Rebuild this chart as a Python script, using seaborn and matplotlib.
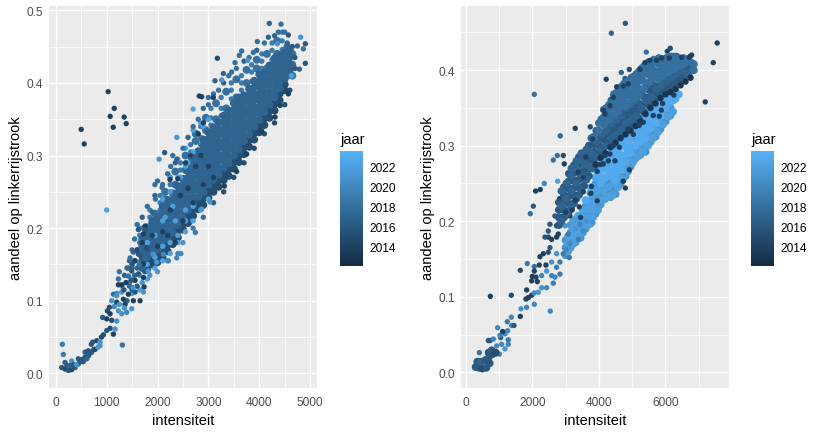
import matplotlib
matplotlib.use("Agg")
import matplotlib.pyplot as plt
import pandas as pd
import seaborn as sns
from matplotlib.cm import ScalarMappable
from matplotlib.colors import LinearSegmentedColormap, Normalize
from matplotlib.ticker import MultipleLocator

WIDTH, HEIGHT = 823, 435
JAAR_MIN, JAAR_MAX = 2012.1, 2023.6
JAAR_TICKS = [2014, 2016, 2018, 2020, 2022]
CMAP = LinearSegmentedColormap.from_list("jaar", ["#132B43", "#56B1F7"])
POINT = 15
DENSE = 32

# left panel, scattered points: (intensiteit, aandeel, jaar)
LEFT_SINGLES = [
    (131, .040, 2019), (150, .026, 2019), (1310, .039, 2018), (1000, .225, 2022), (2033, .295, 2021),
    (2380, .325, 2021), (2700, .364, 2022), (4813, .463, 2021), (4636, .41, 2022), (3032, .236, 2021),
    (2868, .226, 2021), (3772, .431, 2021), (4355, .454, 2021), (3261, .404, 2021),
    (4197, .482, 2017), (4427, .481, 2018), (4374, .47, 2018), (4178, .463, 2017), (4571, .466, 2016),
    (3962, .457, 2018), (3654, .444, 2018), (3608, .438, 2018), (3523, .428, 2018), (3883, .442, 2018),
    (3176, .434, 2015), (3294, .413, 2017), (3457, .415, 2018), (3130, .403, 2017), (2999, .38, 2018),
    (4905, .454, 2016), (4865, .447, 2018), (4905, .427, 2016), (4787, .419, 2017), (4748, .451, 2017),
    (2140, .304, 2016), (2300, .300, 2018), (2260, .285, 2018), (2380, .295, 2017), (1960, .24, 2018),
    (1950, .26, 2018), (2090, .256, 2018), (1900, .222, 2017), (2000, .265, 2018),
]
LEFT_FRINGE = [
    (2500, .31, 2018), (2600, .325, 2017), (2700, .34, 2018), (2800, .35, 2018), (2900, .365, 2017),
    (3000, .37, 2018), (3100, .385, 2018), (3200, .39, 2018), (3300, .4, 2017), (3400, .41, 2018),
    (3550, .42, 2018), (3700, .43, 2017), (3800, .435, 2018), (3950, .445, 2017), (4100, .455, 2018),
    (4300, .465, 2017), (4500, .47, 2018), (4550, .455, 2017), (4650, .45, 2016), (4700, .435, 2016),
    (4700, .42, 2016), (2200, .275, 2018), (2350, .29, 2017), (2100, .26, 2018), (1950, .245, 2017),
    (1800, .23, 2018), (1700, .215, 2017), (1600, .205, 2018), (1550, .185, 2018), (1500, .17, 2018),
    (1450, .155, 2017), (1400, .145, 2018), (1350, .135, 2017), (1250, .14, 2018), (1300, .12, 2021),
    (1200, .11, 2020), (1100, .10, 2021),
    (1700, .125, 2021), (1850, .135, 2021), (2000, .14, 2021), (2200, .155, 2020), (2400, .165, 2020),
    (2500, .18, 2021), (2700, .2, 2019), (2900, .215, 2018), (3100, .235, 2016), (3300, .25, 2015),
    (3500, .27, 2015), (3700, .29, 2015), (3900, .31, 2015), (4100, .33, 2015), (4300, .345, 2015),
    (4500, .37, 2015), (4600, .39, 2015),
    (1400, .10, 2017), (1500, .115, 2016), (1550, .135, 2017), (1600, .12, 2016), (1650, .15, 2016),
    (1700, .16, 2018), (1600, .17, 2017), (1650, .18, 2018), (1500, .145, 2017), (1750, .14, 2016),
    (1800, .17, 2016), (1550, .155, 2016), (1450, .125, 2020),
]
LEFT_DARK = [
    (500, .336), (560, .316), (1030, .388), (1070, .354), (1150, .365), (1130, .339), (1345, .353),
    (1385, .344), (2820, .382), (3097, .38), (2868, .381), (2245, .267), (4309, .353), (3555, .278),
    (3313, .258), (4571, .385), (4407, .369), (4047, .334), (3752, .302),
    (2100, .195), (2250, .225), (2350, .18), (2500, .21), (2450, .245), (2600, .255), (2700, .235),
    (2750, .285), (2900, .26), (2850, .3), (3000, .285), (3100, .27), (1900, .19), (2000, .175),
    (2200, .19), (2650, .3), (2800, .33), (2900, .345), (2400, .268), (2550, .29),
]
LEFT_LOW_X = [118, 183, 249, 314, 380, 445, 511, 576, 642, 707, 183, 314, 445, 576, 642, 727, 806, 871, 773, 871,
              937, 1002, 1068, 1166, 1133, 1002, 1100, 1015, 1068, 1199, 923, 1055, 1199, 1133, 1232, 1297, 1395,
              1493, 1362, 1232, 1232, 1297, 1199, 1297, 1330, 1428, 1526, 1428, 1493, 1559, 1624, 1657, 1723,
              1560, 1461, 1526, 1624, 1723, 1821, 1723, 1736, 1624, 1762, 1762, 1723, 1788, 1919, 1985, 2116,
              2214, 2378, 2460, 2744, 1640, 1700, 1600,
              220, 280, 350, 410, 480, 540, 610, 680, 750, 830, 900, 700, 620, 1150, 1250, 1340, 1450, 1380, 1520,
              1420, 1500, 1600, 1560, 1680, 1480, 1350]
LEFT_LOW_Y = [.008, .006, .004, .005, .008, .013, .019, .022, .024, .029, .015, .017, .02, .029, .031, .043, .045,
              .043, .033, .038, .053, .059, .062, .061, .054, .075, .073, .086, .082, .072, .077, .091, .098, .109,
              .086, .082, .084, .089, .095, .13, .122, .122, .107, .112, .102, .109, .1, .134, .141, .128, .137,
              .1, .112, .112, .159, .167, .164, .151, .141, .132, .119, .198, .203, .197, .192, .173, .164, .153,
              .164, .155, .159, .165, .194, .150, .180, .170,
              .011, .011, .012, .012, .016, .016, .02, .028, .033, .036, .05, .04, .03, .092, .095, .115, .12, .125,
              .118, .145, .15, .145, .155, .16, .128, .09]
LEFT_LOW_JAAR = [2016, 2015, 2016, 2015, 2016, 2016, 2016, 2015, 2016, 2017, 2017, 2021, 2016, 2017, 2016, 2016,
                 2015, 2021, 2014, 2021, 2015, 2016, 2015, 2021, 2014, 2014, 2015, 2015, 2014, 2021, 2016, 2015,
                 2014, 2018, 2021, 2021, 2020, 2021, 2014, 2018, 2014, 2014, 2021, 2021, 2014, 2014, 2014, 2018,
                 2016, 2014, 2016, 2014, 2021, 2016, 2018, 2017, 2016, 2014, 2021, 2014, 2014, 2016, 2014, 2016,
                 2014, 2015, 2021, 2021, 2020, 2020, 2020, 2020, 2019, 2018, 2014, 2015,
                 2016, 2017, 2016, 2021, 2016, 2016, 2017, 2016, 2015, 2021, 2015, 2016, 2016, 2020, 2021, 2016,
                 2017, 2014, 2021, 2017, 2016, 2017, 2014, 2016, 2016, 2021]

# left panel, dense cloud per layer: intensiteit -> aandeel values
LEFT_2022 = {1500: [.11, .13, .15], 1650: [.115, .135], 1800: [.13, .15, .18], 1950: [.145, .16, .19],
             2100: [.155, .175, .21, .24], 2250: [.165, .18, .25, .27], 2400: [.18, .19, .27, .295],
             2550: [.195, .21, .285, .31], 2700: [.21, .23, .305, .335], 2850: [.225, .345], 3000: [.24, .35]}
LEFT_2015 = {1800: [.143, .152], 1900: [.150, .158], 2000: [.153, .162], 2100: [.160, .168], 2200: [.168, .177],
             2300: [.178, .186], 2400: [.187, .196], 2500: [.198, .206], 2600: [.207, .216], 2700: [.217, .226],
             2800: [.226, .235], 2900: [.232, .241], 3000: [.242, .251], 3100: [.250, .259], 3200: [.257, .266],
             3300: [.266, .275], 3400: [.272, .281], 3500: [.282, .291], 3600: [.291, .3], 3700: [.302, .311],
             3800: [.312, .321], 3900: [.322, .331], 4000: [.332, .341], 4100: [.342, .351], 4200: [.352, .361],
             4300: [.362, .371], 4400: [.376, .385], 4500: [.39, .398]}
LEFT_2019 = {1650: [.19, .2], 1850: [.205, .215, .225], 2050: [.225, .235, .245], 2250: [.25, .26, .27],
             2450: [.27, .28, .29], 2650: [.295, .305, .315], 2850: [.315, .325, .34], 3050: [.342, .352, .365],
             3250: [.355, .365, .38], 3450: [.378, .39, .4], 3650: [.39, .4, .41], 3850: [.402, .415, .425],
             4050: [.42, .43, .44], 4250: [.432, .445, .455], 4450: [.446, .458, .47]}
LEFT_2018 = {1750: [.15, .17, .19, .2], 1950: [.16, .18, .2, .22], 2150: [.18, .2, .22, .24, .25],
             2350: [.2, .22, .24, .26, .278], 2550: [.22, .24, .26, .28, .3], 2750: [.24, .26, .28, .3, .32, .33],
             2950: [.255, .275, .295, .315, .335, .352], 3150: [.27, .29, .31, .33, .35, .372],
             3350: [.285, .305, .325, .345, .365, .388], 3550: [.3, .32, .34, .36, .38, .405],
             3750: [.32, .34, .36, .38, .4, .418], 3950: [.34, .36, .38, .4, .42, .432],
             4150: [.36, .38, .4, .42, .44], 4350: [.38, .4, .42, .44, .458], 4550: [.41, .43, .45],
             4650: [.41, .425, .44]}
LEFT_2017 = {1700: [.145, .155, .165, .175, .185], 1800: [.16, .169, .178, .187, .196],
             1900: [.165, .174, .183, .192, .201, .21], 2000: [.17, .179, .188, .197, .206, .215],
             2100: [.176, .185, .194, .203, .212, .221, .23], 2200: [.185, .194, .203, .212, .221, .23, .239],
             2300: [.194, .203, .212, .221, .23, .239, .248], 2400: [.204, .213, .222, .231, .24, .249, .258],
             2500: [.214, .223, .232, .241, .25, .259, .268], 2600: [.224, .233, .242, .251, .26, .269, .278, .287],
             2700: [.234, .243, .252, .261, .27, .279, .288, .297], 2800: [.243, .252, .261, .27, .279, .288, .297, .306],
             2900: [.25, .259, .268, .277, .286, .295, .304, .313, .322],
             3000: [.26, .269, .278, .287, .296, .305, .314, .323, .332],
             3100: [.267, .276, .285, .294, .303, .312, .321, .33, .339],
             3200: [.274, .283, .292, .301, .31, .319, .328, .337, .346],
             3300: [.283, .292, .301, .31, .319, .328, .337, .346, .355],
             3400: [.29, .299, .308, .317, .326, .335, .344, .353, .362],
             3500: [.3, .309, .318, .327, .336, .345, .354, .363, .372],
             3600: [.308, .317, .326, .335, .344, .353, .362, .371, .38],
             3700: [.32, .329, .338, .347, .356, .365, .374, .383], 3800: [.329, .338, .347, .356, .365, .374, .383, .392],
             3900: [.34, .349, .358, .367, .376, .385, .394, .403], 4000: [.349, .358, .367, .376, .385, .394, .403, .412],
             4100: [.36, .369, .378, .387, .396, .405, .414], 4200: [.37, .379, .388, .397, .406, .415, .424],
             4300: [.38, .389, .398, .407, .416, .425, .434], 4400: [.393, .402, .411, .42, .429, .438],
             4500: [.406, .415, .424, .433, .442], 4600: [.418, .427, .436, .445]}
LEFT_BRIGHT_SPECKS = [(2300, .23), (2450, .27), (2350, .21), (2550, .225), (2150, .215), (2600, .29), (2900, .34)]

# right panel, scattered points
RIGHT_SINGLES = [
    (2060, .368, 2018), (4220, .388, 2014), (4140, .347, 2014), (3290, .323, 2014), (3740, .325, 2015),
    (2840, .313, 2017), (2930, .287, 2015), (2750, .287, 2018), (2630, .281, 2018), (2960, .276, 2014),
    (2360, .25, 2020), (2760, .253, 2022), (3080, .246, 2017), (3200, .257, 2017), (2100, .24, 2014),
    (2240, .242, 2014), (2820, .23, 2014), (2030, .22, 2016), (1940, .21, 2018),
    (4793, .462, 2016), (4373, .449, 2017), (7553, .436, 2014), (7433, .41, 2014), (7193, .358, 2014),
    (5423, .424, 2018), (6053, .425, 2014), (6143, .429, 2015), (6293, .419, 2016), (6733, .418, 2014),
    (6783, .42, 2014), (4673, .397, 2017), (4913, .401, 2015), (5213, .401, 2015), (4783, .389, 2016),
    (5033, .393, 2015), (4793, .244, 2014), (4733, .253, 2014), (4913, .268, 2014),
    (740, .1006, 2014), (1370, .102, 2015), (1640, .135, 2015), (1850, .144, 2019), (2060, .14, 2018),
    (2540, .081, 2020), (2060, .09, 2020), (1640, .074, 2014), (1830, .086, 2020), (1660, .084, 2021),
    (1810, .097, 2014), (1880, .099, 2014), (1830, .109, 2014), (1980, .102, 2014), (2060, .105, 2020),
    (2180, .106, 2021), (2280, .112, 2021), (2430, .112, 2020), (1980, .121, 2014), (2150, .12, 2014),
    (2110, .126, 2014), (2000, .127, 2014), (2060, .134, 2014), (2210, .142, 2014), (2410, .142, 2014),
    (2280, .128, 2020), (2430, .134, 2021), (2580, .128, 2020), (2630, .118, 2019), (2680, .126, 2020),
    (2830, .13, 2019), (2730, .139, 2019), (2830, .146, 2019), (2930, .157, 2019), (3110, .152, 2019),
    (3030, .163, 2020), (2730, .157, 2021), (2580, .146, 2021), (2230, .153, 2014), (2330, .157, 2014),
    (2480, .159, 2015), (2530, .165, 2016), (2380, .179, 2016), (2480, .179, 2015), (2480, .187, 2016),
    (2580, .176, 2014), (2730, .179, 2014), (2780, .183, 2014), (2530, .196, 2016), (2680, .207, 2016),
    (2730, .194, 2014), (2930, .207, 2014), (3130, .207, 2014), (3080, .183, 2019), (2980, .194, 2021),
    (3380, .176, 2019), (3130, .17, 2020), (3280, .19, 2021), (3430, .196, 2020), (3630, .2, 2021),
    (3820, .198, 2021), (3530, .187, 2020),
    (410, .026, 2018), (1010, .024, 2020), (1180, .031, 2021), (1280, .037, 2020), (1080, .037, 2020),
    (930, .035, 2020), (730, .042, 2015), (680, .042, 2016), (1050, .046, 2016), (1180, .051, 2020),
    (960, .059, 2020), (1250, .067, 2019), (1370, .073, 2020), (1380, .062, 2020), (1450, .062, 2016),
    (1260, .055, 2020), (1280, .043, 2019), (830, .044, 2020), (1030, .049, 2020), (1110, .054, 2014),
]
RIGHT_LOW_X = [300, 400, 500, 620, 720, 350, 470, 590, 710, 800, 690, 780, 900]
RIGHT_LOW_Y = [.007, .006, .005, .006, .012, .014, .014, .016, .021, .024, .026, .029, .026]
RIGHT_LOW_JAAR = [2016, 2016, 2015, 2016, 2016, 2016, 2017, 2016, 2016, 2016, 2016, 2016, 2015]
RIGHT_DARK = [
    (4133, .347), (4183, .342), (4333, .353), (4433, .364), (4533, .378), (4733, .379), (4883, .382), (5233, .401),
    (5383, .41), (5533, .413), (5733, .413), (5883, .416), (6113, .416), (6483, .417), (6713, .417), (5633, .34),
    (5813, .339), (5873, .347), (5913, .356), (5333, .331), (5213, .327), (5033, .315), (6253, .367), (4883, .322),
    (4433, .3), (4613, .298), (4483, .28), (4283, .28), (4133, .276), (4033, .275), (4333, .289), (4183, .287),
    (3810, .309), (3380, .265), (3530, .258), (3780, .246), (3530, .239), (3760, .237), (3950, .227), (3950, .266),
    (4110, .276), (3410, .219), (3600, .285), (3300, .228), (3450, .205), (3200, .215), (3000, .212),
]

# right panel, dense cloud per layer
RIGHT_2021 = {3000: [.155, .165, .175], 3150: [.165, .175, .185, .195], 3300: [.172, .182, .192, .202],
              3450: [.178, .188, .198, .208], 3600: [.19, .2, .21, .22], 3750: [.197, .207, .217, .227, .237],
              3900: [.21, .22, .23, .24, .25], 4050: [.222, .232, .242], 4200: [.23, .24, .25],
              4350: [.232, .242, .252], 4500: [.236, .246], 4650: [.25, .26], 4800: [.26, .27], 4950: [.272, .282],
              5100: [.283, .293], 5250: [.288, .298], 5400: [.292, .302], 5550: [.305, .315], 5700: [.312, .322],
              5850: [.322, .332], 6000: [.332, .342], 6150: [.34, .35]}
RIGHT_2022 = {3075: [.16, .17, .18], 3225: [.17, .18, .19, .2], 3375: [.177, .187, .197, .207],
              3525: [.185, .195, .205, .215], 3675: [.195, .205, .215, .225], 3825: [.205, .215, .225, .235, .245],
              3975: [.215, .228, .24, .255, .265], 4125: [.228, .24, .255, .27, .28], 4275: [.232, .245, .26, .275, .285],
              4425: [.235, .25, .265, .28, .292], 4575: [.245, .258, .272, .288, .3], 4725: [.256, .27, .285, .3, .31],
              4875: [.266, .28, .295, .31], 5025: [.278, .295, .31, .322], 5175: [.286, .3, .315, .33],
              5325: [.292, .305, .32, .336], 5475: [.3, .315, .33, .345], 5625: [.31, .325, .34, .352],
              5775: [.318, .335, .35, .362], 5925: [.328, .345, .36], 6075: [.338, .355, .368], 6225: [.345, .36, .372]}
RIGHT_2023 = {3600: [.228], 3750: [.245], 3900: [.258, .268], 4050: [.25, .26, .27, .28],
              4200: [.258, .268, .278, .288], 4350: [.26, .27, .28, .29], 4500: [.254, .264, .274, .284, .294],
              4650: [.268, .278, .288, .298, .308], 4800: [.278, .288, .298, .308, .316], 4950: [.29, .3, .31, .32],
              5100: [.3, .31, .32, .33], 5250: [.306, .316, .326, .334], 5400: [.31, .32, .33, .34],
              5550: [.323, .333, .343, .35], 5700: [.33, .34, .35, .358], 5850: [.34, .35, .36, .366],
              6000: [.35, .36, .37], 6150: [.358, .368, .375], 6300: [.362, .372], 6400: [.368]}
RIGHT_2015 = {2800: [.195, .205, .215, .225], 2950: [.205, .215, .225, .235, .245],
              3100: [.213, .223, .233, .243, .253, .263], 3250: [.224, .234, .244, .254, .264, .274],
              3400: [.235, .245, .255, .265, .275, .285], 3550: [.247, .257, .267, .277, .287],
              3700: [.26, .27, .28, .29, .3], 3850: [.272, .282, .292, .302], 4000: [.29, .3, .31],
              4150: [.298, .308, .318], 4300: [.304, .314, .324], 4450: [.31, .32, .33], 4600: [.316, .326, .336],
              4750: [.322, .332, .342], 4900: [.326, .336, .346], 5050: [.332, .342, .352], 5200: [.336, .346, .356],
              5350: [.345, .355, .365], 5500: [.354, .364, .374], 5650: [.36, .37, .38], 5800: [.368, .378],
              5950: [.374, .384], 6100: [.378, .388], 6250: [.382, .392], 6400: [.386, .396], 6550: [.392, .4],
              6700: [.396, .404]}
RIGHT_2016 = {2875: [.2, .22, .24], 3025: [.21, .23, .25], 3175: [.22, .24, .26, .27], 3325: [.23, .25, .27, .28],
              3475: [.24, .26, .28, .29], 3625: [.255, .275, .295], 3775: [.27, .29, .31], 3925: [.285, .305, .32],
              4075: [.295, .315, .335], 4225: [.3, .32, .34, .35], 4375: [.31, .33, .35, .36],
              4525: [.315, .335, .355, .37], 4675: [.32, .34, .36, .378], 4825: [.33, .35, .37, .385],
              4975: [.335, .355, .375, .39], 5125: [.34, .36, .38, .395], 5275: [.35, .37, .39, .402],
              5425: [.36, .38, .4, .408], 5575: [.365, .385, .405], 5725: [.375, .395, .412], 5875: [.38, .4, .415],
              6025: [.385, .405, .416], 6175: [.39, .41, .418], 6325: [.395, .41, .418], 6475: [.4, .415],
              6625: [.395, .41], 6775: [.4, .41]}
RIGHT_2017 = {3850: [.312], 4000: [.32, .33], 4150: [.328, .338, .348], 4300: [.334, .344, .354],
              4450: [.34, .35, .36, .368], 4600: [.346, .356, .366, .374], 4750: [.352, .362, .372, .382],
              4900: [.356, .366, .376, .386], 5050: [.362, .372, .382, .391], 5200: [.366, .376, .386, .398],
              5350: [.375, .385, .395, .405], 5500: [.384, .394, .404, .411], 5650: [.39, .4, .41, .414],
              5800: [.388, .398, .408, .416], 5950: [.394, .404, .414], 6100: [.398, .408, .418],
              6250: [.402, .412, .418], 6400: [.406, .416], 6550: [.408, .416], 6700: [.412], 6850: [.4, .408]}
RIGHT_2013 = {3900: [.275], 4050: [.284], 4200: [.29], 4350: [.298], 4500: [.304], 4650: [.31], 4800: [.315],
              4950: [.32], 5100: [.326], 5250: [.332], 5400: [.342], 5550: [.35], 5700: [.356], 5850: [.363],
              6000: [.368], 6150: [.371], 6300: [.375], 6450: [.38], 6600: [.385], 6750: [.39]}

COLUMNS = ["intensiteit", "aandeel", "jaar"]


def layer(columns: dict, jaar: int) -> pd.DataFrame:
    return pd.DataFrame([(x, y, jaar) for x, ys in columns.items() for y in ys], columns=COLUMNS)


def singles(points: list, jaar: int) -> pd.DataFrame:
    return pd.DataFrame([(x, y, jaar) for x, y in points], columns=COLUMNS)


def pixel_axes(fig, left, top, right, bottom):
    return fig.add_axes([left / WIDTH, 1 - bottom / HEIGHT, (right - left) / WIDTH, (bottom - top) / HEIGHT])


def draw_panel(fig, passes, box, xlim, ylim, x_major, x_minor):
    ax = pixel_axes(fig, *box)
    for df, size in passes:
        sns.scatterplot(
            data=df, x="intensiteit", y="aandeel", hue="jaar", palette=CMAP, hue_norm=(JAAR_MIN, JAAR_MAX),
            s=size, linewidth=0, legend=False, ax=ax, zorder=3,
        )
    ax.set_xlim(*xlim)
    ax.set_ylim(*ylim)
    ax.xaxis.set_major_locator(MultipleLocator(x_major))
    ax.xaxis.set_minor_locator(MultipleLocator(x_minor))
    ax.yaxis.set_major_locator(MultipleLocator(0.1))
    ax.yaxis.set_minor_locator(MultipleLocator(0.05))
    ax.xaxis.set_major_formatter("{x:.0f}")
    ax.yaxis.set_major_formatter("{x:.1f}")
    ax.grid(True, which="major", color="white", linewidth=1.0)
    ax.grid(True, which="minor", color="white", linewidth=0.55)
    ax.set_axisbelow(True)
    for spine in ax.spines.values():
        spine.set_visible(False)
    ax.tick_params(which="major", length=2.6, width=0.8, color="#333333", labelcolor="#4D4D4D", labelsize=8.6)
    ax.tick_params(axis="x", which="major", pad=3.5)
    ax.tick_params(axis="y", which="major", pad=1.5)
    ax.tick_params(which="minor", length=0)
    ax.set_xlabel("intensiteit", fontsize=10.5, color="black", labelpad=3)
    ax.set_ylabel("aandeel op linkerrijstrook", fontsize=10.5, color="black", labelpad=3)
    return ax


def draw_colorbar(fig, left, right):
    cax = pixel_axes(fig, left, 152, right, 266.7)
    sm = ScalarMappable(norm=Normalize(JAAR_MIN, JAAR_MAX), cmap=CMAP)
    cbar = fig.colorbar(sm, cax=cax, ticks=JAAR_TICKS)
    cbar.outline.set_visible(False)
    cbar.ax.tick_params(length=3.3, width=0.7, color="white", direction="in", left=True, right=True,
                        labelsize=8.6, labelcolor="black", pad=4.3)
    cbar.ax.set_yticklabels([str(t) for t in JAAR_TICKS])
    fig.text(left / WIDTH, 1 - 144 / HEIGHT, "jaar", fontsize=10.5, color="black", ha="left", va="baseline")


def main() -> None:
    sns.set_style("darkgrid", {"axes.facecolor": "#EBEBEB"})
    plt.rcParams["font.family"] = ["Liberation Sans", "DejaVu Sans"]

    left_low = pd.DataFrame({"intensiteit": LEFT_LOW_X, "aandeel": LEFT_LOW_Y, "jaar": LEFT_LOW_JAAR})
    left_passes = [
        (layer(LEFT_2019, 2019), POINT),
        (layer(LEFT_2018, 2018), DENSE),
        (layer(LEFT_2015, 2015), DENSE),
        (layer(LEFT_2017, 2017), DENSE),
        (layer(LEFT_2022, 2022), POINT),
        (pd.DataFrame(LEFT_FRINGE, columns=COLUMNS), POINT),
        (pd.DataFrame(LEFT_SINGLES, columns=COLUMNS), POINT),
        (left_low, POINT),
        (singles(LEFT_BRIGHT_SPECKS, 2022), POINT),
        (singles(LEFT_DARK, 2014), POINT),
    ]

    right_low = pd.DataFrame({"intensiteit": RIGHT_LOW_X, "aandeel": RIGHT_LOW_Y, "jaar": RIGHT_LOW_JAAR})
    right_passes = [
        (layer(RIGHT_2021, 2021), DENSE),
        (layer(RIGHT_2022, 2022), DENSE),
        (layer(RIGHT_2023, 2023), DENSE),
        (pd.DataFrame(RIGHT_SINGLES, columns=COLUMNS), POINT),
        (right_low, DENSE),
        (layer(RIGHT_2015, 2016), DENSE),
        (layer(RIGHT_2016, 2017), DENSE),
        (layer(RIGHT_2017, 2018), DENSE),
        (layer(RIGHT_2013, 2013), 22),
        (singles(RIGHT_DARK, 2014), POINT),
    ]

    fig = plt.figure(figsize=(WIDTH / 100, HEIGHT / 100), dpi=100)
    draw_panel(fig, left_passes, (49, 7, 317, 389), (-132, 5134), (-0.0202, 0.506), 1000, 500)
    draw_panel(fig, right_passes, (461, 7, 729, 389), (-141, 7907), (-0.0208, 0.485), 2000, 1000)
    draw_colorbar(fig, 340, 363)
    draw_colorbar(fig, 751, 774)
    fig.savefig("out.png", dpi=100)
    plt.close(fig)


if __name__ == "__main__":
    main()
